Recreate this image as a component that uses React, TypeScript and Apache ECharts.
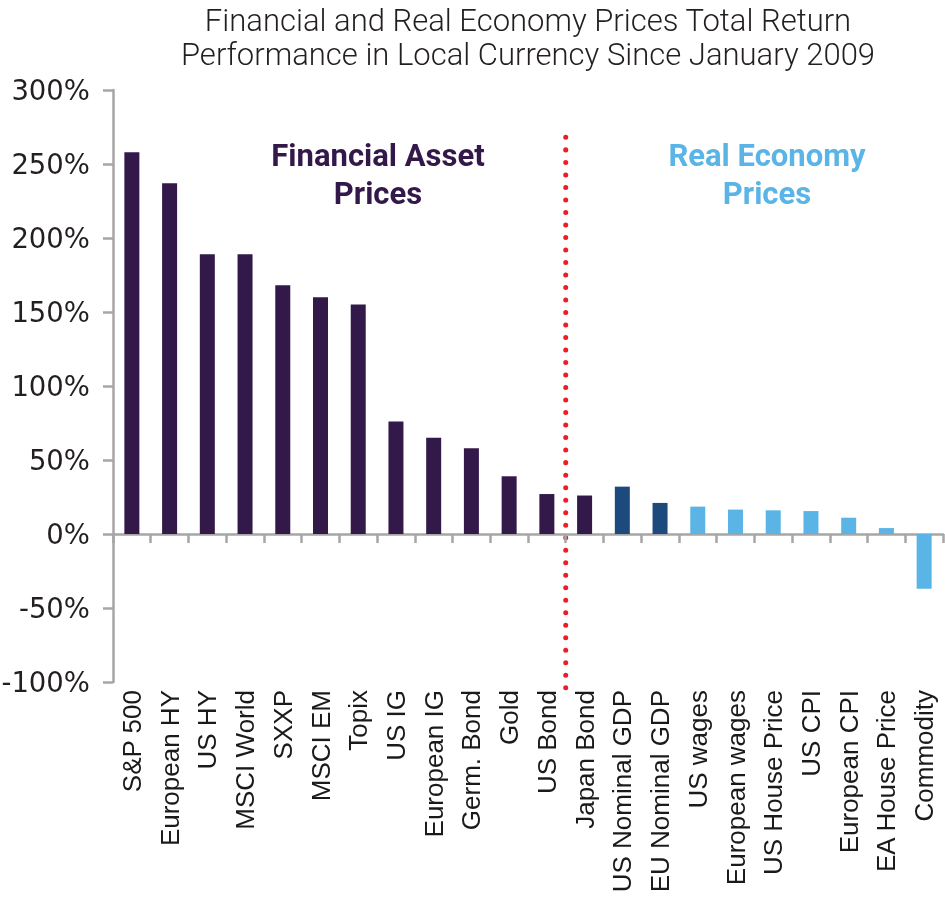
import React, { useEffect, useRef } from "react";
import * as echarts from "echarts";

const categories = [
  "S&P 500", "European HY", "US HY", "MSCI World", "SXXP", "MSCI EM", "Topix",
  "US IG", "European IG", "Germ. Bond", "Gold", "US Bond", "Japan Bond",
  "US Nominal GDP", "EU Nominal GDP", "US wages", "European wages",
  "US House Price", "US CPI", "European CPI", "EA House Price", "Commodity",
];
const values = [258, 237, 189, 189, 168, 160, 155, 76, 65, 58, 39, 27, 26, 32, 21, 18.5, 16.5, 16, 15.5, 11, 4, -37];
// 0 = financial, 1 = nominal GDP, 2 = real economy
const groups = [0, 0, 0, 0, 0, 0, 0, 0, 0, 0, 0, 0, 0, 1, 1, 2, 2, 2, 2, 2, 2, 2];
const groupColors = ["#33184a", "#1c4a7c", "#5ab4e6"];
const yTicks = { min: -100, max: 300, interval: 50 };
const titleLines = ["Financial and Real Economy Prices Total Return", "Performance in Local Currency Since January 2009"];
const annotations = [
  { lines: ["Financial Asset", "Prices"], color: "#33184a", cx: 378 },
  { lines: ["Real Economy", "Prices"], color: "#5ab4e6", cx: 767 },
];

export default function App() {
  const ref = useRef<HTMLDivElement>(null);
  useEffect(() => {
    if (!ref.current) return;
    const chart = echarts.init(ref.current, null, { renderer: "svg" });
    const axisColor = "#a6a6a6";
    chart.setOption({
      animation: false,
      grid: { left: 113, right: 2, top: 90, bottom: 216, containLabel: false, outerBoundsMode: "none" },
      xAxis: {
        type: "category",
        data: categories,
        axisLine: { onZero: true, lineStyle: { color: axisColor, width: 2.5 } },
        axisTick: { show: true, length: 9, lineStyle: { color: axisColor, width: 2.5 } },
        axisLabel: {
          rotate: 90,
          interval: 0,
          margin: 8,
          fontSize: 26,
          color: "#1a1a1a",
          fontFamily: "Liberation Sans",
        },
      },
      yAxis: {
        type: "value",
        min: yTicks.min,
        max: yTicks.max,
        interval: yTicks.interval,
        splitLine: { show: false },
        axisLine: { show: true, lineStyle: { color: axisColor, width: 2.5 } },
        axisTick: { show: true, length: 10, lineStyle: { color: axisColor, width: 2.5 } },
        axisLabel: {
          margin: 23,
          fontSize: 27.5,
          color: "#231f20",
          fontFamily: "DejaVu Sans",
          formatter: (v: number) => `${v}%`,
        },
      },
      series: [
        {
          type: "bar",
          barWidth: 15,
          data: values.map((v, i) => ({ value: v, itemStyle: { color: groupColors[groups[i]] } })),
        },
      ],
    });

    const xa = chart.convertToPixel({ xAxisIndex: 0 }, 11) as number;
    const xb = chart.convertToPixel({ xAxisIndex: 0 }, 12) as number;
    const xDiv = (xa + xb) / 2;
    const yTop = chart.convertToPixel({ yAxisIndex: 0 }, 268) as number;
    const yBot = (chart.convertToPixel({ yAxisIndex: 0 }, -100) as number) + 8;

    const graphics: any[] = [];
    titleLines.forEach((t, i) => {
      graphics.push({
        type: "text",
        x: 528,
        y: 20 + i * 34,
        style: {
          text: t,
          fontSize: 31,
          lineHeight: 32,
          fontWeight: 300,
          fontFamily: "Roboto",
          fill: "#231f20",
          textAlign: "center",
          textVerticalAlign: "middle",
        },
      });
    });
    annotations.forEach((a) => {
      a.lines.forEach((l, i) => {
        graphics.push({
          type: "text",
          x: a.cx,
          y: 155 + i * 38,
          style: {
            text: l,
            fontSize: 31,
            fontWeight: "bold",
            fontFamily: "Roboto",
            fill: a.color,
            textAlign: "center",
            textVerticalAlign: "middle",
          },
        });
      });
    });
    graphics.push({
      type: "line",
      shape: { x1: xDiv, y1: yTop, x2: xDiv, y2: yBot },
      style: { stroke: "#ee1c25", lineWidth: 5, lineDash: [0.01, 12.5], lineCap: "round" },
    });
    chart.setOption({ graphic: graphics });

    return () => chart.dispose();
  }, []);
  return <div ref={ref} style={{ position: "fixed", left: 0, top: 0, width: 945, height: 898 }} />;
}
